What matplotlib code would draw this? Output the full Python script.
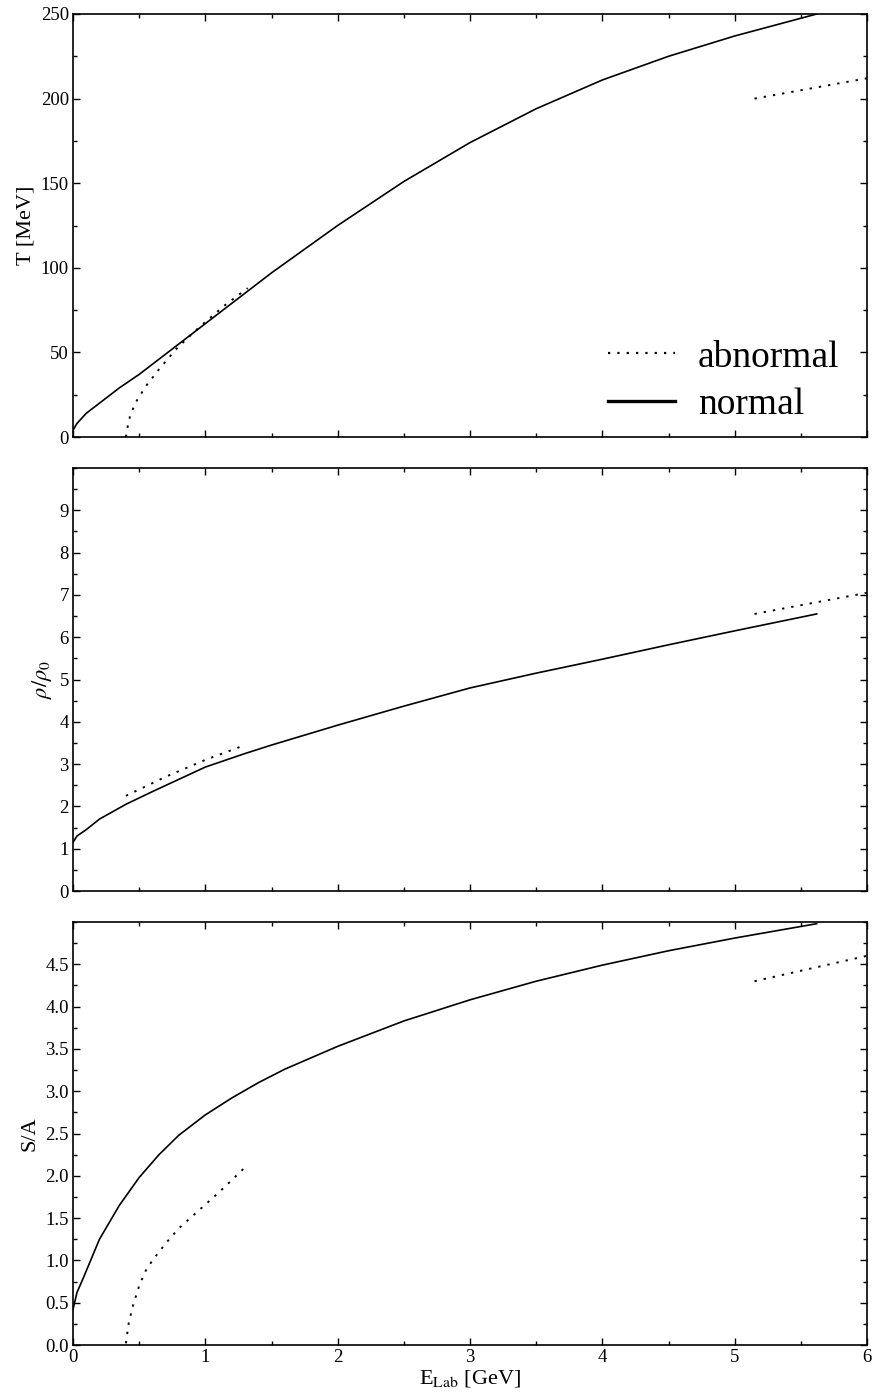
import numpy as np
import matplotlib
matplotlib.use('Agg')
import matplotlib.pyplot as plt
from matplotlib.ticker import MultipleLocator
from matplotlib.lines import Line2D

plt.rcParams['font.family'] = ['Liberation Serif', 'DejaVu Serif']
plt.rcParams['mathtext.fontset'] = 'stix'

# temperature T [MeV] vs E_Lab [GeV]
t_norm_x = [0.0, 0.03, 0.1, 0.2, 0.35, 0.5, 0.75, 1.0, 1.5, 2.0, 2.5, 3.0, 3.5, 4.0, 4.5, 5.0, 5.62]
t_norm_y = [4, 8, 14, 20, 29, 37, 52, 67, 97, 125, 151, 174, 194, 211, 225, 237, 250]
t_abn_x = [0.4, 0.41, 0.43, 0.47, 0.55, 0.65, 0.78, 0.9, 1.0, 1.15, 1.32]
t_abn_y = [0, 5, 12, 20, 30, 40, 52, 61, 68, 78, 88]
t_abn2_x = [5.15, 6.0]
t_abn2_y = [200, 212]

# density rho/rho0
r_norm_x = [0.0, 0.03, 0.1, 0.2, 0.4, 0.6, 1.0, 1.3, 1.5, 2.0, 2.5, 3.0, 3.5, 4.0, 4.5, 5.0, 5.62]
r_norm_y = [1.15, 1.3, 1.45, 1.7, 2.05, 2.35, 2.93, 3.25, 3.45, 3.92, 4.37, 4.8, 5.15, 5.48, 5.82, 6.15, 6.55]
r_abn_x = [0.4, 0.7, 1.0, 1.3]
r_abn_y = [2.25, 2.7, 3.1, 3.45]
r_abn2_x = [5.15, 6.0]
r_abn2_y = [6.55, 7.05]

# entropy per baryon S/A
s_norm_x = [0.0, 0.03, 0.08, 0.2, 0.35, 0.5, 0.65, 0.8, 1.0, 1.2, 1.4, 1.6, 2.0, 2.5, 3.0, 3.5, 4.0, 4.5, 5.0, 5.62]
s_norm_y = [0.42, 0.62, 0.8, 1.25, 1.65, 1.98, 2.25, 2.48, 2.72, 2.92, 3.1, 3.26, 3.53, 3.83, 4.08, 4.3, 4.49, 4.66, 4.81, 4.98]
s_abn_x = [0.4, 0.42, 0.45, 0.5, 0.55, 0.6, 0.7, 0.8, 0.9, 1.0, 1.1, 1.2, 1.32]
s_abn_y = [0.02, 0.25, 0.45, 0.7, 0.88, 1.0, 1.2, 1.38, 1.52, 1.66, 1.8, 1.95, 2.13]
s_abn2_x = [5.15, 6.0]
s_abn2_y = [4.3, 4.6]

dots = (0, (1.2, 3.6))

fig = plt.figure(figsize=(8.72, 13.99), dpi=100)
left, width, height = 73/872, 794/872, 423/1399
bottoms = [1-437/1399, 1-891/1399, 1-1345/1399]
axes = [fig.add_axes([left, b, width, height]) for b in bottoms]

panels = [
    (t_norm_x, t_norm_y, t_abn_x, t_abn_y, t_abn2_x, t_abn2_y, 250, 50, 25, 'T [MeV]', '%d'),
    (r_norm_x, r_norm_y, r_abn_x, r_abn_y, r_abn2_x, r_abn2_y, 10, 1, 0.5, r'$\rho/\rho_0$', '%d'),
    (s_norm_x, s_norm_y, s_abn_x, s_abn_y, s_abn2_x, s_abn2_y, 5, 0.5, 0.25, 'S/A', '%.1f'),
]

for i, (ax, p) in enumerate(zip(axes, panels)):
    nx, ny, ax1, ay1, ax2, ay2, ytop, maj, mnr, lab, fmt = p
    ax.plot(nx, ny, color='black', lw=1.2)
    ax.plot(ax1, ay1, color='black', lw=1.4, linestyle=dots)
    ax.plot(ax2, ay2, color='black', lw=1.4, linestyle=dots)
    ax.set_xlim(0, 6)
    ax.set_ylim(0, ytop)
    ax.xaxis.set_major_locator(MultipleLocator(1))
    ax.xaxis.set_minor_locator(MultipleLocator(0.5))
    ax.yaxis.set_major_locator(MultipleLocator(maj))
    ax.yaxis.set_minor_locator(MultipleLocator(mnr))
    ax.tick_params(which='both', direction='in', top=True, right=True, labelsize=13.5, pad=3)
    ax.tick_params(which='major', length=5, width=1)
    ax.tick_params(which='minor', length=3, width=1)
    for s in ax.spines.values():
        s.set_linewidth(1.2)
    if i == 0:
        ticks = np.arange(0, ytop + maj/2, maj)
    else:
        ticks = np.arange(0, ytop - maj/2, maj)
    ax.set_yticks(ticks)
    ax.set_yticklabels([fmt % t for t in ticks])
    ax.set_ylabel(lab, fontsize=16, labelpad=4)
    if i < 2:
        ax.set_xticklabels([])

axes[2].set_xlabel(r'E$_{\rm Lab}$ [GeV]', fontsize=16, labelpad=1)

handles = [Line2D([], [], color='black', lw=1.6, linestyle=(0, (1.0, 3.2))),
           Line2D([], [], color='black', lw=2.4)]
axes[0].legend(handles, ['abnormal', 'normal'], loc='lower right', frameon=False,
               fontsize=27, handlelength=1.8, handletextpad=0.6, labelspacing=0.35,
               borderpad=0.0, borderaxespad=0.0, bbox_to_anchor=(0.965, 0.035))

fig.savefig('out.png', dpi=100)
